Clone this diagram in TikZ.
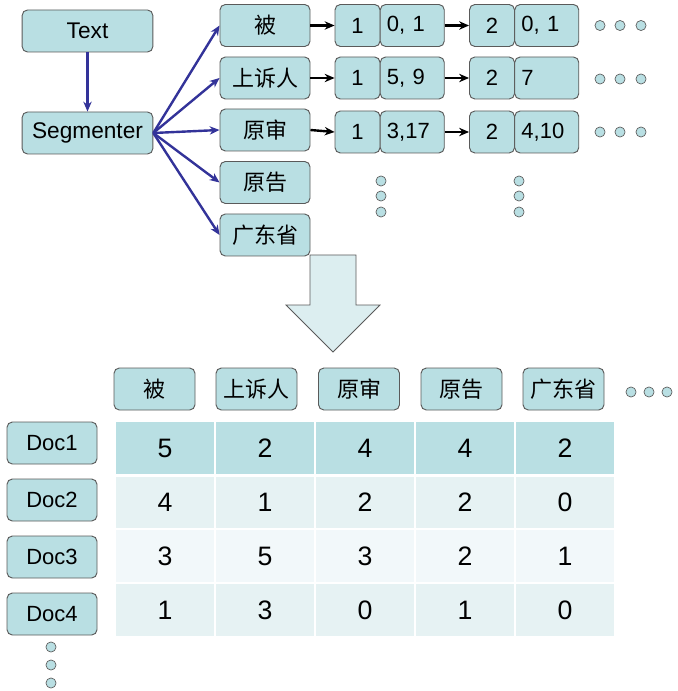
\documentclass[tikz,border=0pt]{standalone}
\usepackage{fontspec}
\setmainfont{Liberation Sans}
\newfontfamily\cjk{Noto Sans CJK SC}
\usetikzlibrary{arrows.meta,positioning}

\definecolor{cellfill}{HTML}{B9DFE3}
\definecolor{rowA}{HTML}{E6F2F3}
\definecolor{rowB}{HTML}{F2F8FA}
\definecolor{edgeblue}{HTML}{333399}
\definecolor{bordergray}{HTML}{5A5A5A}
\definecolor{arrowfill}{HTML}{DCEEF0}

\begin{document}
\begin{tikzpicture}[
    x=0.75pt, y=-0.75pt,
    box/.style={draw=bordergray,fill=cellfill,rounded corners=4pt,inner sep=0pt,
                line width=0.7pt},
    tbox/.style={box,minimum width=98pt,minimum height=31.5pt,
                 font=\fontsize{17}{17}\selectfont},
    wbox/.style={box,minimum width=67.5pt,minimum height=31.5pt,
                 font=\cjk\fontsize{16.5}{16.5}\selectfont},
    hbox/.style={wbox,minimum width=60.75pt},
    dbox/.style={box,minimum width=67.5pt,minimum height=31.5pt,
                 font=\fontsize{16.5}{16.5}\selectfont},
    idbox/.style={box,minimum width=33.75pt,minimum height=31.5pt,
                  font=\fontsize{16.5}{16.5}\selectfont},
    lbox/.style={box,inner xsep=5pt,text width=38pt,align=left,minimum height=31.5pt,
                 font=\fontsize{16.5}{16.5}\selectfont},
    cell/.style={draw=white,line width=1pt,minimum width=75pt,minimum height=40.5pt,
                 inner sep=0pt,font=\fontsize{20}{20}\selectfont},
    seg/.style={-{Stealth[length=2.6mm,width=2.2mm]},edgeblue,line width=1.8pt},
    post/.style={-{Stealth[length=2.6mm,width=2.2mm]},black,line width=1.8pt},
    dot/.style={draw=bordergray,fill=cellfill,line width=0.5pt},
  ]
  \useasboundingbox (0,0) rectangle (677,691);

  % --- segmentation ---
  \node[tbox] (text) at (87.5,31)  {Text};
  \node[tbox] (segm) at (87.5,133) {Segmenter};
  \draw[seg] (text) -- (segm);

  % --- word nodes ---
  \node[wbox] (w1) at (265,25.5) {被};
  \node[wbox] (w2) at (265,78)   {上诉人};
  \node[wbox] (w3) at (265,130)  {原审};
  \node[wbox] (w4) at (265,182.5){原告};
  \node[wbox] (w5) at (265,235)  {广东省};
  \foreach \w in {w1,w2,w3,w4,w5} { \draw[seg] (segm.east) -- (\w.west); }

  % --- posting lists ---
  \node[idbox] (p1a) at (357.5,25.5) {1};
  \node[lbox,right=-0.5pt of p1a] (l1a) {0, 1};
  \node[idbox] (p1b) at (492,25.5) {2};
  \node[lbox,right=-0.5pt of p1b] (l1b) {0, 1};

  \node[idbox] (p2a) at (357.5,78) {1};
  \node[lbox,right=-0.5pt of p2a] (l2a) {5, 9};
  \node[idbox] (p2b) at (492,78) {2};
  \node[lbox,right=-0.5pt of p2b] (l2b) {7};

  \node[idbox] (p3a) at (357.5,132) {1};
  \node[lbox,right=-0.5pt of p3a] (l3a) {3,17};
  \node[idbox] (p3b) at (492,132) {2};
  \node[lbox,right=-0.5pt of p3b] (l3b) {4,10};

  \foreach \r in {1,2,3} {
    \draw[post] (w\r.east) -- (p\r a.west);
    \draw[post] (l\r a.east) -- (p\r b.west);
  }

  % continuation dots
  \foreach \y in {25.5,79,132} {
    \foreach \x in {600,620,641} { \draw[dot] (\x,\y) circle (3.8pt); }
  }
  \foreach \x in {381,519} {
    \foreach \y in {181,196,212} { \draw[dot] (\x,\y) circle (3.8pt); }
  }

  % --- big down arrow ---
  \draw[draw=bordergray,fill=arrowfill,line width=0.6pt]
    (310,255) -- (356,255) -- (356,305) -- (380,305) -- (333,352)
    -- (286,305) -- (310,305) -- cycle;

  % --- term header ---
  \node[hbox] (h1) at (154.5,389) {被};
  \node[hbox] (h2) at (256.5,389) {上诉人};
  \node[hbox] (h3) at (359,389)   {原审};
  \node[hbox] (h4) at (461.5,389) {原告};
  \node[hbox] (h5) at (563.5,389) {广东省};
  \foreach \x in {631,649,667} { \draw[dot] (\x,392) circle (3.8pt); }

  % --- documents ---
  \node[dbox] (d1) at (52,443) {Doc1};
  \node[dbox] (d2) at (52,500) {Doc2};
  \node[dbox] (d3) at (52,557) {Doc3};
  \node[dbox] (d4) at (52,614) {Doc4};
  \foreach \y in {647,665,683} { \draw[dot] (51,\y) circle (3.8pt); }

  % --- term-document matrix ---
  \draw[gray!20,line width=1pt] (115,421) rectangle (615,637);
  \foreach \vals [count=\r] in {{5,2,4,4,2},{4,1,2,2,0},{3,5,3,2,1},{1,3,0,1,0}} {
    \ifnum\r=1 \def\rowfill{cellfill}\fi
    \ifnum\r=2 \def\rowfill{rowA}\fi
    \ifnum\r=3 \def\rowfill{rowB}\fi
    \ifnum\r=4 \def\rowfill{rowA}\fi
    \foreach \v [count=\c] in \vals {
      \node[cell,fill=\rowfill] (c\r\c) at (65+100*\c,394+54*\r) {\v};
    }
  }
  \draw[white,line width=1.5pt] (115,476) -- (615,476);

\end{tikzpicture}
\end{document}
